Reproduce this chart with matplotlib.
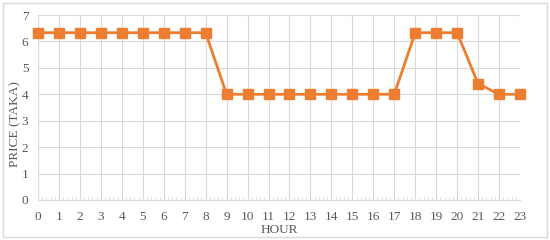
import matplotlib
matplotlib.use("Agg")
import matplotlib.pyplot as plt
from matplotlib.patches import Rectangle
from matplotlib.ticker import MultipleLocator

hours = list(range(24))
price = [6.33, 6.33, 6.33, 6.33, 6.33, 6.33, 6.33, 6.33, 6.33,
         4.0, 4.0, 4.0, 4.0, 4.0, 4.0, 4.0, 4.0, 4.0,
         6.33, 6.33, 6.33, 4.4, 4.0, 4.0]
y_ticks = [0, 1, 2, 3, 4, 5, 6, 7]

plt.rcParams['font.family'] = ['Liberation Serif', 'DejaVu Serif']
txt = '#595959'
fig = plt.figure(figsize=(5.5, 2.4), dpi=100)
ax = fig.add_axes([38/550, 40/240, 482/550, 185/240])
ax.plot(hours, price, color='#ED7D31', lw=2, marker='s', ms=7, clip_on=False, zorder=3)
ax.set_xlim(0, 23)
ax.set_ylim(0, 7)
ax.set_xticks(hours)
ax.set_yticks(y_ticks)
ax.xaxis.set_minor_locator(MultipleLocator(0.2))
ax.grid(True, color='#D9D9D9', lw=0.8)
for s in ['top', 'right', 'left']:
    ax.spines[s].set_visible(False)
ax.spines['bottom'].set_color('#D9D9D9')
ax.tick_params(axis='x', which='major', length=0, labelsize=9.5, colors=txt, pad=8)
ax.tick_params(axis='y', which='major', length=0, labelsize=9.5, colors=txt, pad=7)
ax.tick_params(axis='x', which='minor', length=2, color='#D9D9D9', direction='in')
ax.tick_params(axis='y', which='minor', length=0)
ax.set_xlabel('HOUR', fontsize=9.5, color=txt)
ax.xaxis.set_label_coords(0.5, -24/185)
ax.set_ylabel('PRICE (TAKA)', fontsize=9.5, color=txt)
ax.yaxis.set_label_coords(-17/482, 0.41)
fig.patches.append(Rectangle((3/550, 3/240), 544/550, 234/240, transform=fig.transFigure,
                             fill=False, edgecolor='#D9D9D9', lw=1))
fig.savefig('out.png', dpi=100)
